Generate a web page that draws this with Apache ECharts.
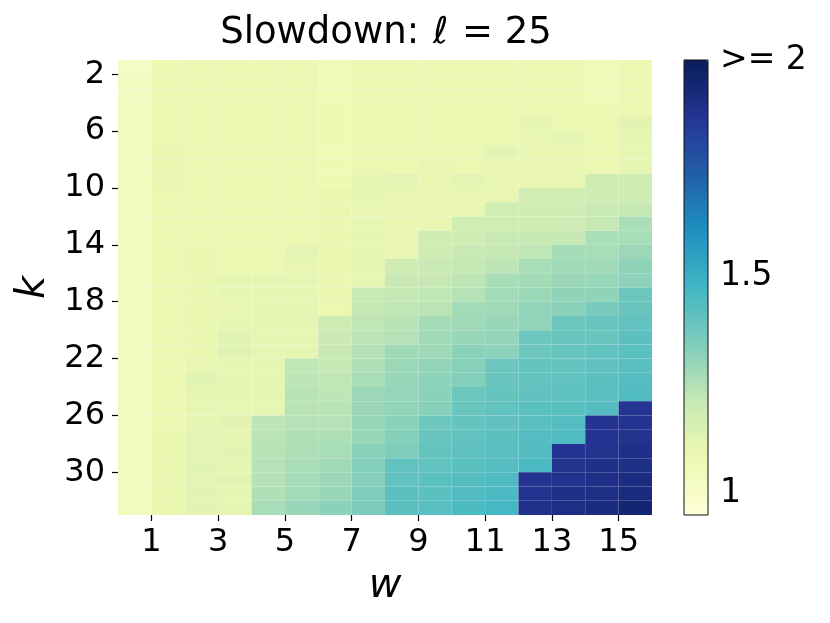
<!DOCTYPE html>
<html>
<head>
<meta charset="utf-8">
<script src="https://cdn.jsdelivr.net/npm/echarts@6/dist/echarts.min.js"></script>
<style>
html,body{margin:0;padding:0;background:#fff;}
#chart{width:830px;height:623px;}
</style>
</head>
<body>
<div id="chart"></div>
<script>
// ---- data ----
const wValues = [1,2,3,4,5,6,7,8,9,10,11,12,13,14,15,16];
const kValues = [1,2,3,4,5,6,7,8,9,10,11,12,13,14,15,16,17,18,19,20,21,22,23,24,25,26,27,28,29,30,31,32];
const wTickLabels = [1,3,5,7,9,11,13,15];
const kTickLabels = [2,6,10,14,18,22,26,30];
const colorTicks = [1, 1.5, 2];
const colorMin = 0.95;
const colorMax = 2;
// slowdown per w (each list: k = 1..32)
const slowdownByW = [
  [1.02,1.03,1.03,1.04,1.04,1.04,1.04,1.04,1.04,1.04,1.04,1.04,1.04,1.04,1.04,1.04,1.04,1.04,1.04,1.04,1.04,1.04,1.04,1.04,1.04,1.04,1.04,1.04,1.04,1.04,1.04,1.04],
  [1.08,1.085,1.085,1.085,1.085,1.085,1.09,1.09,1.10,1.085,1.085,1.085,1.085,1.085,1.085,1.085,1.085,1.085,1.085,1.085,1.085,1.085,1.085,1.085,1.085,1.085,1.09,1.09,1.09,1.09,1.09,1.09],
  [1.085,1.085,1.085,1.085,1.085,1.085,1.085,1.085,1.085,1.085,1.085,1.085,1.085,1.09,1.09,1.09,1.09,1.09,1.09,1.09,1.09,1.10,1.12,1.105,1.105,1.105,1.113,1.113,1.12,1.115,1.115,1.115],
  [1.085,1.085,1.085,1.085,1.085,1.085,1.085,1.085,1.085,1.085,1.085,1.085,1.085,1.085,1.085,1.105,1.105,1.098,1.105,1.125,1.125,1.11,1.11,1.11,1.11,1.115,1.11,1.115,1.11,1.115,1.11,1.11],
  [1.085,1.085,1.085,1.085,1.085,1.085,1.085,1.085,1.085,1.085,1.085,1.085,1.085,1.085,1.085,1.109,1.109,1.109,1.109,1.109,1.109,1.109,1.109,1.109,1.109,1.231,1.234,1.24,1.245,1.245,1.255,1.269],
  [1.085,1.085,1.085,1.085,1.085,1.085,1.085,1.085,1.085,1.085,1.085,1.085,1.085,1.112,1.098,1.109,1.109,1.109,1.109,1.109,1.109,1.225,1.231,1.24,1.24,1.245,1.255,1.26,1.269,1.273,1.28,1.30],
  [1.06,1.06,1.07,1.07,1.07,1.07,1.07,1.07,1.07,1.088,1.088,1.088,1.088,1.088,1.088,1.088,1.088,1.085,1.19,1.20,1.209,1.216,1.225,1.231,1.24,1.245,1.26,1.269,1.286,1.291,1.298,1.32],
  [1.085,1.085,1.085,1.085,1.085,1.085,1.085,1.085,1.109,1.109,1.098,1.105,1.105,1.105,1.105,1.105,1.209,1.216,1.225,1.231,1.245,1.255,1.269,1.291,1.295,1.298,1.298,1.322,1.332,1.336,1.344,1.348],
  [1.085,1.085,1.085,1.085,1.085,1.085,1.085,1.085,1.112,1.098,1.098,1.098,1.098,1.098,1.185,1.206,1.216,1.227,1.24,1.245,1.288,1.293,1.298,1.304,1.313,1.322,1.332,1.342,1.406,1.406,1.418,1.418],
  [1.085,1.085,1.085,1.085,1.085,1.085,1.085,1.098,1.098,1.098,1.098,1.098,1.185,1.185,1.206,1.209,1.227,1.234,1.275,1.284,1.286,1.306,1.319,1.322,1.33,1.38,1.389,1.397,1.406,1.416,1.42,1.427],
  [1.085,1.085,1.085,1.085,1.085,1.085,1.085,1.085,1.112,1.098,1.098,1.181,1.185,1.206,1.216,1.231,1.245,1.278,1.284,1.298,1.322,1.33,1.334,1.382,1.389,1.397,1.406,1.414,1.42,1.433,1.439,1.449],
  [1.085,1.085,1.085,1.085,1.085,1.085,1.112,1.098,1.098,1.098,1.181,1.181,1.209,1.216,1.231,1.269,1.28,1.286,1.298,1.306,1.319,1.382,1.391,1.397,1.406,1.41,1.418,1.427,1.433,1.443,1.452,1.466],
  [1.085,1.085,1.085,1.085,1.105,1.098,1.098,1.098,1.098,1.181,1.185,1.185,1.214,1.227,1.269,1.278,1.293,1.309,1.313,1.38,1.38,1.397,1.403,1.41,1.416,1.424,1.433,1.439,1.452,1.875,1.879,1.888],
  [1.085,1.085,1.085,1.085,1.085,1.112,1.098,1.098,1.098,1.18,1.19,1.19,1.216,1.273,1.284,1.295,1.315,1.322,1.382,1.389,1.397,1.401,1.406,1.412,1.42,1.433,1.445,1.872,1.883,1.886,1.896,1.902],
  [1.06,1.06,1.06,1.085,1.085,1.085,1.085,1.085,1.185,1.185,1.206,1.214,1.265,1.269,1.284,1.298,1.315,1.361,1.389,1.389,1.406,1.41,1.416,1.422,1.433,1.87,1.875,1.883,1.892,1.898,1.905,1.914],
  [1.085,1.085,1.085,1.085,1.115,1.105,1.109,1.109,1.19,1.19,1.214,1.265,1.27,1.291,1.315,1.319,1.384,1.389,1.406,1.418,1.42,1.427,1.433,1.443,1.87,1.875,1.883,1.89,1.90,1.91,1.92,1.946]
];
const ylgnbu = ['#ffffd9','#edf8b1','#c7e9b4','#7fcdbb','#41b6c4','#1d91c0','#225ea8','#253494','#081d58'];

// ---- build cells from data ----
const cells = [];
wValues.forEach(function (w, i) {
  kValues.forEach(function (k, j) {
    cells.push([w - 1, k, slowdownByW[i][j]]);
  });
});

const FONT = 'DejaVu Sans';
const chart = echarts.init(document.getElementById('chart'), null, {renderer: 'canvas'});
chart.setOption({
  animation: false,
  backgroundColor: '#ffffff',
  textStyle: {fontFamily: FONT, color: '#000'},
  title: {
    text: '{a|Slowdown: }{l|ℓ}{a| = 25}',
    left: 381, top: 10, textAlign: 'center',
    textStyle: {
      fontWeight: 'normal',
      rich: {
        a: {fontFamily: FONT, fontSize: 37, fontWeight: 'normal', color: '#000'},
        l: {fontFamily: FONT, fontSize: 37, fontWeight: 'normal', fontStyle: 'italic', color: '#000', padding: [0, 2, 0, 2]}
      }
    }
  },
  grid: [
    {left: 118, top: 60, width: 534, height: 455, containLabel: false},
    {left: 684, top: 60, width: 24, height: 455, show: true, borderColor: '#111', borderWidth: 1, backgroundColor: 'transparent', z: 10}
  ],
  xAxis: [
    {
      type: 'value', gridIndex: 0, min: 0, max: 16,
      name: 'w', nameLocation: 'middle', nameGap: 52,
      nameTextStyle: {fontFamily: FONT, fontSize: 40, fontStyle: 'italic', color: '#000'},
      axisLine: {show: false},
      splitLine: {show: false},
      axisTick: {show: true, customValues: wTickLabels, length: 6, lineStyle: {color: '#000', width: 1.2}},
      axisLabel: {customValues: wTickLabels, margin: 12, fontFamily: FONT, fontSize: 32, color: '#000'}
    },
    {type: 'value', gridIndex: 1, min: 0, max: 1, show: false}
  ],
  yAxis: [
    {
      type: 'value', gridIndex: 0, min: 1, max: 33, inverse: true,
      name: 'k', nameLocation: 'middle', nameGap: 64, nameRotate: 90,
      nameTextStyle: {fontFamily: FONT, fontSize: 40, fontStyle: 'italic', color: '#000'},
      axisLine: {show: false},
      splitLine: {show: false},
      axisTick: {show: true, customValues: kTickLabels, length: 6, lineStyle: {color: '#000', width: 1.2}},
      axisLabel: {customValues: kTickLabels, margin: 13, fontFamily: FONT, fontSize: 32, color: '#000'}
    },
    {
      type: 'value', gridIndex: 1, min: colorMin, max: colorMax, position: 'right',
      axisLine: {show: false},
      splitLine: {show: false},
      axisTick: {show: true, customValues: colorTicks, length: 5, lineStyle: {color: '#000', width: 1.2}},
      axisLabel: {
        customValues: colorTicks, margin: 12, fontFamily: FONT, fontSize: 33, color: '#000',
        formatter: function (v) { return v >= colorMax ? '>= 2' : String(v); }
      }
    }
  ],
  visualMap: {
    type: 'continuous',
    min: colorMin, max: colorMax,
    dimension: 2,
    seriesIndex: 0,
    calculable: false,
    hoverLink: false,
    orient: 'vertical',
    left: 684, top: 60,
    itemWidth: 24, itemHeight: 455,
    padding: 0,
    inRange: {color: ylgnbu}
  },
  series: [{
    type: 'custom',
    xAxisIndex: 0, yAxisIndex: 0,
    data: cells,
    encode: {x: 0, y: 1},
    renderItem: function (params, api) {
      const x0 = api.value(0), y0 = api.value(1);
      const p0 = api.coord([x0, y0]);
      const p1 = api.coord([x0 + 1, y0 + 1]);
      return {
        type: 'rect',
        shape: {
          x: Math.min(p0[0], p1[0]), y: Math.min(p0[1], p1[1]),
          width: Math.abs(p1[0] - p0[0]), height: Math.abs(p1[1] - p0[1])
        },
        style: {fill: api.visual('color')}
      };
    }
  }]
});
</script>
</body>
</html>
